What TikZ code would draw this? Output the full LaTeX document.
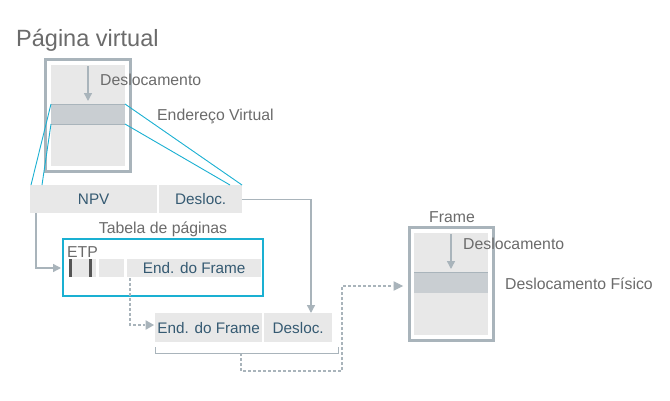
\documentclass[tikz,border=0pt]{standalone}
\usepackage{fontspec}
\setmainfont{Liberation Sans}
\usetikzlibrary{arrows.meta}
\definecolor{lbl}{HTML}{6B6B6B}
\definecolor{boxtxt}{HTML}{355A72}
\definecolor{cellbg}{HTML}{E8E8E8}
\definecolor{band}{HTML}{C9CED2}
\definecolor{frm}{HTML}{A9B4BB}
\definecolor{cyanl}{HTML}{1AB0D2}
\definecolor{darkbar}{HTML}{555555}
\tikzset{
  lbltext/.style={text=lbl, font=\fontsize{15.8}{18}\selectfont, inner sep=0pt},
  cell/.style={fill=cellbg, draw=none, text=boxtxt, font=\fontsize{15.3}{17}\selectfont, inner sep=0pt},
  grayline/.style={draw=frm, line width=1.4pt},
  grayarrow/.style={draw=frm, line width=1.4pt, -{Triangle[length=8pt,width=8pt]}},
  dashline/.style={draw=frm, line width=1.4pt, dash pattern=on 3pt off 2pt},
  cyanline/.style={draw=cyanl, line width=0.9pt},
}
\begin{document}
\begin{tikzpicture}[x=1pt,y=-1pt]
\useasboundingbox (0,0) rectangle (670,400);
\fill[white] (0,0) rectangle (670,400);
% title
\node[lbltext, anchor=west, font=\fontsize{23.5}{26}\selectfont] (title) at (16,40) {Página virtual};
% virtual page
\draw[frm, line width=3pt, fill=white] (45.5,59.5) rectangle (130.5,171.5);
\fill[cellbg] (51,65) rectangle (125,166);
\fill[band] (51,104) rectangle (125,124);
\draw[frm, line width=0.8pt] (51,104) -- (125,104) (51,124) -- (125,124);
\coordinate (va1) at (88,66);
\coordinate (va2) at (88,101);
\draw[grayarrow] (va1) -- (va2);
\node[lbltext, anchor=west] (vdesl) at (100,80) {Deslocamento};
\node[lbltext, anchor=west] (vend) at (157,116) {Endereço Virtual};
% NPV / Desloc
\node[cell, minimum width=127pt, minimum height=28pt, anchor=north west] (npv) at (30,185) {NPV};
\node[cell, minimum width=83pt, minimum height=28pt, anchor=north west] (desl) at (159,185) {Desloc.};
% cyan lines
\coordinate (b1) at (51,104);
\coordinate (b2) at (51,124);
\coordinate (b3) at (125,104);
\coordinate (b4) at (125,124);
\draw[cyanline] (b1) -- (31,185);
\draw[cyanline] (b2) -- (42,185);
\draw[cyanline] (b3) -- (242,185);
\draw[cyanline] (b4) -- (230,185);
% page table
\node[lbltext] (tabtitle) at (163,229) {Tabela de páginas};
\draw[cyanl, line width=2pt] (63,239) rectangle (263,296);
\node[lbltext, anchor=west] (etp) at (67,252) {ETP};
\fill[cellbg] (69,259) rectangle (96,277);
\fill[darkbar] (69,259) rectangle (72,277);
\fill[darkbar] (89,259) rectangle (92,277);
\fill[cellbg] (99,259) rectangle (124,277);
\node[cell, minimum width=134pt, minimum height=18pt, anchor=north west] (endf) at (127,259) {End. do Frame};
% arrow NPV -> table
\draw[grayarrow] (npv.south west) ++(6,0) |- (61,268);
% Desloc -> bottom
\node[cell, minimum width=107pt, minimum height=29pt, anchor=north west] (endf2) at (155,313) {End. do Frame};
\node[cell, minimum width=68pt, minimum height=29pt, anchor=north west] (desl2) at (264,313) {Desloc.};
\draw[grayarrow] (desl.east) -| (desl2.north -| 311,0);
% dashed from table to bottom
\coordinate (d1) at (130,278);
\draw[dashline] (d1) |- (145,325);
\draw[frm, line width=1pt, fill=frm] (146,321) -- (153,325) -- (146,329) -- cycle;
% bracket
\draw[frm, line width=1pt] (155,347) -- (155,353) -- (338,353) -- (338,347);
% frame
\draw[frm, line width=3pt, fill=white] (409.5,227.5) rectangle (493.5,340.5);
\fill[cellbg] (414,233) rectangle (488,335);
\fill[band] (414,272) rectangle (488,293);
\draw[frm, line width=0.8pt] (414,272) -- (488,272);
\draw[grayarrow] (451,234) -- (451,269);
\node[lbltext] (frtitle) at (452,217) {Frame};
\node[lbltext, anchor=west] (fdesl) at (463,244) {Deslocamento};
\node[lbltext, anchor=west] (ffis) at (505,284) {Deslocamento Físico};
% dashed to frame
\coordinate (e1) at (241,353);
\draw[dashline] (e1) -- (241,371) -- (342,371) -- (342,286) -- (393,286);
\draw[frm, line width=1pt, fill=frm] (394,282) -- (402,286) -- (394,290) -- cycle;
\end{tikzpicture}
\end{document}
